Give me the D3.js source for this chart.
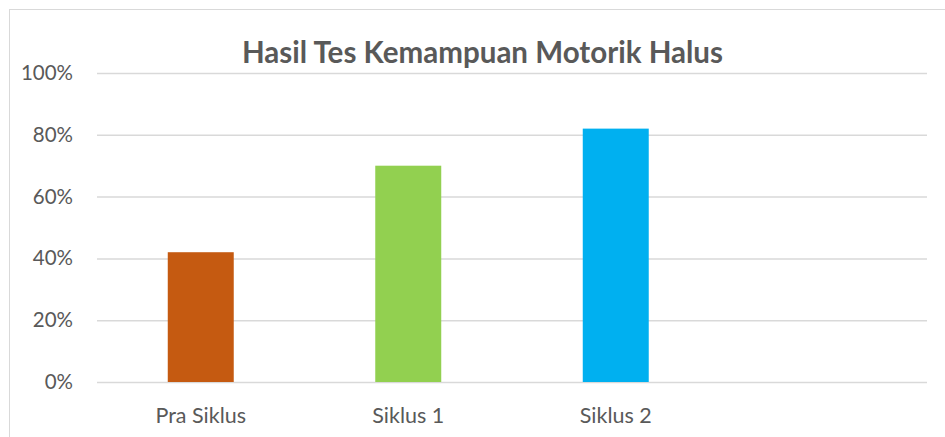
<!DOCTYPE html>
<html>
<head>
<meta charset="utf-8">
<script src="https://cdn.jsdelivr.net/npm/d3@7"></script>
<style>
  html, body { margin: 0; padding: 0; background: #fff; }
  svg { display: block; font-family: Lato, "Open Sans", sans-serif; }
</style>
</head>
<body>
<div id="chart"></div>
<script>
// data
const categories = ["Pra Siklus", "Siklus 1", "Siklus 2", ""];
const values = [0.42, 0.70, 0.82, null];
const barColors = ["#C55A11", "#92D050", "#00B0F0", "#cccccc"];
const yTicks = [0, 0.2, 0.4, 0.6, 0.8, 1.0];
const chartTitle = "Hasil Tes Kemampuan Motorik Halus";

const width = 945, height = 437;
const margin = { top: 73, right: 18, bottom: 55, left: 97 };
const innerW = width - margin.left - margin.right;
const innerH = height - margin.top - margin.bottom;

const svg = d3.select("#chart").append("svg")
  .attr("width", width)
  .attr("height", height);

// chart frame
svg.append("rect")
  .attr("x", 9.5).attr("y", 9.5)
  .attr("width", width).attr("height", height)
  .attr("fill", "none")
  .attr("stroke", "#d9d9d9")
  .attr("stroke-width", 1);

svg.append("text")
  .attr("x", 482.5)
  .attr("y", 63)
  .attr("text-anchor", "middle")
  .attr("fill", "#595959")
  .attr("font-size", 30)
  .attr("font-weight", "bold")
  .attr("textLength", 481)
  .attr("lengthAdjust", "spacingAndGlyphs")
  .text(chartTitle);

const g = svg.append("g")
  .attr("transform", `translate(${margin.left}, ${margin.top})`);

const x = d3.scaleBand()
  .domain(categories.map((c, i) => i))
  .range([0, innerW])
  .paddingInner(0.682)
  .paddingOuter(0.341);

const y = d3.scaleLinear()
  .domain([0, 1])
  .range([innerH, 0]);

// gridlines + y labels
const yAxis = d3.axisLeft(y)
  .tickValues(yTicks)
  .tickSize(-innerW)
  .tickPadding(24)
  .tickFormat(d3.format(".0%"));

g.append("g")
  .call(yAxis)
  .call(a => a.select(".domain").remove())
  .call(a => a.selectAll("line").attr("stroke", "#d9d9d9").attr("stroke-width", 1.5))
  .call(a => a.selectAll("text")
    .attr("fill", "#595959")
    .attr("font-size", 20.5)
    .attr("font-family", "Lato, 'Open Sans', sans-serif"));

// bars
g.selectAll(".bar")
  .data(values.map((v, i) => ({ v, i })).filter(d => d.v != null))
  .join("rect")
  .attr("class", "bar")
  .attr("x", d => x(d.i))
  .attr("width", x.bandwidth())
  .attr("y", d => y(d.v))
  .attr("height", d => innerH - y(d.v))
  .attr("fill", d => barColors[d.i]);

// category labels
const xAxis = d3.axisBottom(x)
  .tickSize(0)
  .tickPadding(26)
  .tickFormat(i => categories[i]);

g.append("g")
  .attr("transform", `translate(0, ${innerH})`)
  .call(xAxis)
  .call(a => a.select(".domain").remove())
  .call(a => a.selectAll("text")
    .attr("fill", "#595959")
    .attr("font-size", 21.5)
    .attr("font-family", "Lato, 'Open Sans', sans-serif"));
</script>
</body>
</html>
